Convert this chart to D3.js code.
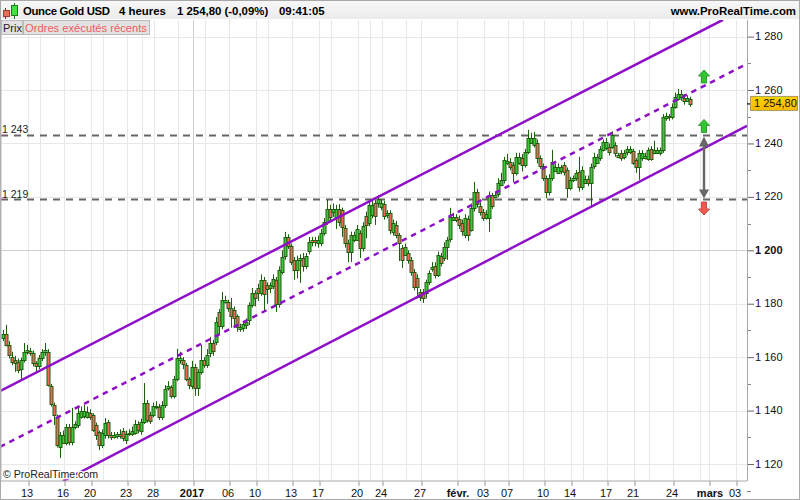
<!DOCTYPE html>
<html><head><meta charset="utf-8">
<script src="https://cdn.jsdelivr.net/npm/d3@7/dist/d3.min.js"></script>
<style>html,body{margin:0;padding:0;background:#fff}svg{display:block;font-family:"Liberation Sans",Arial,sans-serif}</style>
</head><body><div id="chart"></div>
<script>
const opens=[1167.2,1168.7,1164.6,1160.1,1158.9,1158.2,1155.6,1158.9,1161.9,1162.3,
1161.6,1157.8,1156.7,1159.7,1161.9,1161.9,1149.2,1142.1,1137.6,1126.4,
1127.9,1127.9,1133.9,1128.2,1133.9,1134.6,1137.6,1138,1137.6,1139.1,
1138.4,1134.6,1132,1127.1,1130.9,1135.7,1130.9,1130.1,1130.5,1131.2,
1132.4,1129,1131.2,1131.2,1131.6,1135,1132.4,1135.7,1142.8,1138.4,
1138.4,1141.3,1141.3,1137.6,1142.1,1148.5,1148.8,1145.5,1151.8,1158.9,
1158.9,1157.1,1151.8,1149.2,1156.3,1148.5,1154.5,1158.9,1157.1,1161.6,
1165.3,1165.7,1176.9,1171.7,1180.7,1180.7,1178.4,1177.7,1175.4,1170.6,
1170.9,1172.1,1173.9,1179.5,1184,1185.9,1184,1188.9,1187,1185.9,
1186.7,1188.9,1179.9,1191.9,1197.9,1205,1201.6,1196.4,1192.7,1196.4,
1197.1,1194.2,1199.8,1203.9,1203.9,1202.8,1202.8,1206.5,1210.6,1215.5,
1214.4,1212.1,1215.5,1215.1,1208.4,1202.8,1199.4,1203.9,1203.9,1206.5,
1200.9,1212.9,1210.3,1213.3,1217.7,1217.7,1216.2,1217.4,1213.3,1214,
1206.9,1209.5,1205.8,1200.9,1198.3,1199,1196.4,1191.9,1189.7,1184.4,
1184.4,1184,1188.2,1193,1194.2,1190.8,1197.9,1197.1,1201.3,1204.3,
1211.4,1212.5,1211.8,1210.3,1205.8,1211.8,1207.6,1215.9,1221.9,1216.6,
1214.4,1212.1,1212.1,1220.7,1220,1221.1,1224.5,1226.4,1232.7,1233.1,
1232,1229,1232.7,1234.6,1232,1236.8,1240.2,1239.5,1240.2,1234.6,
1231.6,1227.1,1221.9,1227.1,1229.7,1229,1229.7,1232,1230.1,1223.4,
1226.4,1227.1,1229.4,1223.7,1225.2,1226.7,1225.2,1231.6,1232.7,1234.6,
1237.6,1238.3,1238.7,1238.7,1239.5,1235,1236.5,1235,1236.8,1236.8,
1237.2,1233.8,1231.2,1234.6,1234.6,1234.2,1238,1236.5,1236.5,1236.5,
1237.6,1249.6,1250,1250,1253.7,1256.7,1257.4,1257.1,1255.9,1256.7];
const closes=[1168.7,1164.6,1160.8,1158.2,1157.8,1155.2,1158.9,1161.9,1162.7,1161.6,
1157.8,1156.7,1159.7,1161.9,1162.7,1149.6,1142.5,1138.4,1127.1,1130.9,
1130.9,1133.9,1128.2,1133.9,1135,1139.1,1139.8,1139.8,1139.5,1137.6,
1132.7,1130.9,1127.1,1131.6,1135.4,1130.9,1130.1,1130.9,1131.2,1130.5,
1129.7,1131.2,1131.6,1132.4,1135,1132.7,1135.7,1142.8,1136.5,1136.1,
1141.7,1141.7,1137.6,1142.1,1148.1,1149.2,1145.5,1151.8,1159.7,1159.7,
1157.5,1151.8,1149.6,1156.3,1148.5,1154.5,1158.9,1157.1,1160.8,1165.3,
1162.3,1173.2,1171.7,1181.4,1181.4,1178.4,1175.4,1174.7,1171.3,1171.3,
1172.4,1173.2,1179.5,1184,1182.2,1184,1188.9,1183.7,1185.5,1187,
1189.3,1179.9,1192.7,1197.5,1205,1201.6,1195.6,1192.7,1196.4,1197.1,
1194.2,1197.9,1203.1,1203.1,1203.1,1203.9,1206.5,1210.6,1215.5,1212.5,
1215.5,1215.5,1210.6,1208.8,1202.8,1199.4,1205.8,1205.8,1208,1200.9,
1209.1,1209.5,1217,1217,1212.9,1219.2,1217.7,1212.9,1214,1207.6,
1210.3,1205.8,1202.8,1196.4,1201.3,1196.4,1191.9,1186.3,1186.3,1182.5,
1182.2,1188.2,1191.5,1193.8,1190.8,1198.3,1195.3,1201.3,1203.9,1212.5,
1212.5,1211.4,1209.5,1207.3,1212.1,1205.8,1215.9,1221.9,1217.4,1214.4,
1212.1,1213.6,1220.7,1216.6,1220.7,1225.2,1226.4,1233.8,1233.5,1231.2,
1229,1235,1235,1232,1236.8,1242.1,1242.1,1242.1,1234.6,1231.6,
1227.1,1221.9,1227.1,1233.1,1231.2,1231.2,1231.2,1229.4,1223.4,1226.4,
1227.1,1229,1223.7,1230.1,1226.7,1225.2,1231.2,1235,1235,1238,
1240.6,1240.6,1236.8,1243.2,1236.5,1235.7,1234.6,1236.5,1238,1238,
1232.7,1231.2,1236.5,1236.5,1235.3,1237.6,1234.2,1237.6,1237.6,1237.6,
1250,1250.3,1250.3,1253.7,1257.4,1258.6,1258.6,1255.9,1257.1,1254.8];
const highs=[1170.2,1172.1,1166,1162,1160.5,1159.5,1159.8,1165.3,1164.6,1163.5,
1162.5,1158.5,1160.8,1163,1165.3,1163,1150,1143,1138.5,1132,
1132.5,1135,1135,1141,1136,1141,1141.5,1142.1,1141.5,1140.5,
1139,1135.5,1132.5,1133,1137.2,1136.5,1132,1132,1132,1133,
1133.5,1132.5,1133,1134,1136.5,1136,1137,1150.3,1144,1139.5,
1143,1143.5,1142.5,1143.5,1149.5,1151,1149.5,1153,1163.1,1162,
1160,1157.8,1152.5,1158.6,1157.5,1155.5,1164.6,1160,1163,1167.6,
1166.5,1175,1178,1184.4,1183,1181.5,1182.2,1179,1176,1172.5,
1173.5,1174.5,1180.5,1185.9,1185,1187.5,1191,1190,1188,1188,
1191,1190,1194,1200,1206.9,1206,1202.5,1197.5,1198,1198.5,
1199,1199,1205,1205,1205,1205.5,1208,1212,1218.9,1217,
1217.5,1217,1217.3,1216,1209.5,1204,1207,1207,1209.5,1207.5,
1210.5,1214.5,1219,1218.5,1219,1220.7,1219,1218.5,1215,1215,
1211.5,1211,1206.5,1202,1202.5,1200,1197.5,1193,1191,1185.5,
1185.5,1189,1192.5,1195.6,1195.5,1199.5,1199,1203,1205,1215.9,
1214,1213.5,1213,1211.5,1213.5,1213,1217.5,1225.6,1223,1218,
1215.5,1215,1222,1221.5,1222,1227,1229,1235,1236.1,1234.5,
1233,1236.5,1236.5,1236,1238,1245.1,1244,1244.3,1241.5,1235.5,
1232.5,1228,1228.5,1237.6,1232.5,1232.5,1232,1233,1231,1227.5,
1228,1230,1235,1231.5,1228,1228,1232.5,1236.5,1236,1239,
1241.5,1242,1240,1244.5,1240.5,1236.5,1237.5,1237.5,1239,1239,
1238,1234.5,1237.5,1237.5,1236.5,1238.5,1239,1241,1238.5,1238.5,
1251,1251.5,1251,1255,1259,1260.4,1260,1258.5,1258,1257.5];
const lows=[1166,1164,1159.5,1157,1154.5,1154,1151.1,1158,1161,1160.5,
1156.5,1154.5,1155.5,1158.5,1160.5,1149,1141.5,1134.6,1126.2,1122.2,
1129,1127,1127,1127,1133,1133.5,1137,1137,1137,1136.5,
1132,1129,1125.2,1126,1129.5,1129.5,1129,1129.5,1129.5,1129.5,
1128.5,1127.5,1130.5,1130.5,1131,1131.5,1131,1135,1135.5,1135,
1137.5,1140.5,1136.5,1136.5,1141,1147.5,1144.5,1144.5,1151,1157.5,
1155.5,1151,1148,1148,1145.5,1145.5,1153.5,1156,1156,1160,
1160.5,1164.5,1168.5,1170.5,1180,1177,1171,1171,1169.5,1169.5,
1169.5,1170.5,1172,1178.5,1179,1181,1183,1177,1180,1184,
1185.5,1176.9,1178.5,1191,1196.5,1200.5,1194.5,1189,1189.5,1187.8,
1192,1193,1198.5,1201.5,1201.5,1201,1201.5,1205.5,1209.5,1210.5,
1212.5,1208,1209,1205,1201,1195.5,1195.6,1203,1203.5,1197.1,
1199.5,1204.5,1209,1212,1209.5,1216,1215,1211.5,1212,1206,
1205.5,1204.5,1196,1193.4,1198,1195,1190.5,1185,1182,1181,
1180.3,1182,1187,1192,1189.5,1190,1194,1196,1196.4,1203,
1211.5,1210.5,1208,1205.5,1204.5,1203.5,1207,1214.5,1216,1213,
1211,1211.5,1206.9,1215.5,1219.5,1220,1224,1225,1232,1230,
1225.5,1228,1232,1229.5,1231,1236,1240.5,1238.5,1232.5,1230.5,
1226,1219.5,1220.5,1226,1230,1229,1228.5,1228,1219.6,1222.5,
1225.5,1226,1222,1222.5,1225.5,1224,1216.6,1230.5,1233.5,1233.5,
1237,1237.5,1235.5,1238,1235,1234.5,1233.5,1234,1235.5,1236,
1232,1229,1226.4,1233.5,1234,1233.5,1233.5,1236,1236,1235.5,
1236.5,1248.5,1248.5,1249,1253,1256,1256,1254.5,1256.5,1253.7];

const timeTicks=[8,20,29,41,50,63,75,84,96,105,118,126,139,151,160,168,180,189,201,210,223,235,244];
const timeLabels=["13","16","20","23","28","2017","06","10","13","17","20","24","27","févr.","03","07","10","14","17","21","24","mars","03"];
const boldLabels=["2017","févr.","mars"];
const minorGrid=[12,33,46,58,67,88,109,122,134,173,193,215,232];
const priceTicks=[1120,1140,1160,1180,1200,1220,1240,1260,1280];
const priceMinor=[1110,1130,1150,1170,1190,1210,1230,1250,1270,1290];
const levelValues=[1243,1219];
const levelLabels=["1 243","1 219"];
const upperBars=[-1,240], upperPrices=[1147.3,1286.3];
const middleBars=[-1,248], middlePrices=[1126.4,1269.8];
const lowerBars=[20,248], lowerPrices=[1113.6,1246.6];
const arrowUpPrices=[1267.5,1249];
const arrowDownPrice=1213.2;
const lastPrice=1254.8;

const W=800,H=500,plotL=1,plotR=747,plotT=20,plotB=481;
const x=d3.scaleLinear().domain([0,229]).range([3,690]);
const y=d3.scaleLinear().domain([1120,1280]).range([464,36.6]);
const frFmt=d3.formatLocale({decimal:",",thousands:" ",grouping:[3],currency:["",""]});
const fmtInt=frFmt.format(",d"), fmtDec=frFmt.format(",.2f");

const svg=d3.select("#chart").append("svg").attr("width",W).attr("height",H);
const defs=svg.append("defs");
defs.append("clipPath").attr("id","plot").append("rect").attr("x",plotL).attr("y",plotT).attr("width",plotR-plotL).attr("height",plotB-plotT);
const hg=defs.append("linearGradient").attr("id","hdr").attr("x1",0).attr("x2",0).attr("y1",0).attr("y2",1);
hg.append("stop").attr("offset",0).attr("stop-color","#f7f7f7");
hg.append("stop").attr("offset",1).attr("stop-color","#ececec");
const gg=defs.append("linearGradient").attr("id","gold").attr("x1",0).attr("x2",0).attr("y1",0).attr("y2",1);
gg.append("stop").attr("offset",0).attr("stop-color","#ffd200");
gg.append("stop").attr("offset",1).attr("stop-color","#f7bb00");

svg.append("rect").attr("width",W).attr("height",H).attr("fill","#fff");

// grid
const grid=svg.append("g").attr("clip-path","url(#plot)");
minorGrid.concat(timeTicks).forEach(d=>{
  grid.append("line").attr("x1",x(d)+1.5).attr("x2",x(d)+1.5).attr("y1",plotT).attr("y2",plotB)
    .attr("stroke",d===63?"#cfcfcf":"#e8e8e8").attr("stroke-width",1);
});
priceTicks.forEach(d=>{
  const py=Math.round(y(d))+.5;
  grid.append("line").attr("x1",plotL).attr("x2",plotR).attr("y1",py).attr("y2",py)
    .attr("stroke",d===1200?"#cfcfcf":"#e8e8e8");
});

// levels
const plot=svg.append("g").attr("clip-path","url(#plot)");
levelValues.forEach(d=>{
  plot.append("line").attr("x1",plotL).attr("x2",plotR).attr("y1",y(d)).attr("y2",y(d))
    .attr("stroke","#666").attr("stroke-width",2).attr("stroke-dasharray","7,6");
});

// candles
const idx=d3.range(closes.length);
const candleColor="#1e5f0c";
plot.append("g").selectAll("line").data(idx).join("line")
  .attr("x1",i=>x(i)+.5).attr("x2",i=>x(i)+.5)
  .attr("y1",i=>y(highs[i])).attr("y2",i=>y(lows[i]))
  .attr("stroke",candleColor).attr("stroke-width",1);
plot.append("g").selectAll("rect").data(idx).join("rect")
  .attr("x",i=>x(i)-1)
  .attr("y",i=>Math.round(Math.min(y(opens[i]),y(closes[i])))+.5)
  .attr("width",3)
  .attr("height",i=>Math.max(1,Math.round(Math.abs(y(opens[i])-y(closes[i])))))
  .attr("fill",i=>closes[i]>=opens[i]?"#3fc63f":"#ee6a5e")
  .attr("stroke",candleColor).attr("stroke-width",1);

// channels
const lineGen=d3.line().x(d=>x(d[0])).y(d=>y(d[1]));
const chan=[[upperBars,upperPrices,null],[middleBars,middlePrices,"5.5,5"],[lowerBars,lowerPrices,null]];
chan.forEach(([b,p,dash])=>{
  plot.append("path").attr("d",lineGen(b.map((v,k)=>[v,p[k]])))
    .attr("fill","none").attr("stroke","#8f0fc9").attr("stroke-width",2.5)
    .attr("stroke-dasharray",dash);
});

// arrows
const ax=704;
function arrow(py,dir,fill,stroke){
  const a=plot.append("path").attr("fill",fill).attr("stroke",stroke).attr("stroke-width",1);
  const h=dir*13,w=5.5;
  a.attr("d",`M${ax},${py} L${ax+w},${py+dir*6} L${ax+2.5},${py+dir*6} L${ax+2.5},${py+h} L${ax-2.5},${py+h} L${ax-2.5},${py+dir*6} L${ax-w},${py+dir*6} Z`);
}
arrowUpPrices.forEach(p=>arrow(y(p),1,"#35c435","#2aa02a"));
arrow(y(arrowDownPrice),-1,"#ef5a50","#c94a42");
const gy1=y(levelValues[0])+1,gy2=y(levelValues[1])-1;
plot.append("line").attr("x1",ax).attr("x2",ax).attr("y1",gy1+5).attr("y2",gy2-5).attr("stroke","#666").attr("stroke-width",2.4);
plot.append("path").attr("fill","#666").attr("d",`M${ax},${gy1} L${ax+5},${gy1+10} L${ax-5},${gy1+10} Z M${ax},${gy2} L${ax+5},${gy2-9} L${ax-5},${gy2-9} Z`);

// frame & axes
const axisR=d3.axisRight(y).tickValues(priceTicks).tickSize(7).tickPadding(1).tickFormat(fmtInt);
const gR=svg.append("g").attr("transform",`translate(${plotR},0)`).call(axisR);
gR.select(".domain").remove();
gR.selectAll("text").attr("font-size",11).attr("fill","#111").attr("font-family","'Liberation Sans',Arial,sans-serif")
  .attr("font-weight",d=>d===1200?"bold":"normal").attr("x",8).attr("dy","0.28em");
gR.selectAll("line").attr("stroke","#666");
svg.append("g").selectAll("line").data(priceMinor).join("line")
  .attr("x1",plotR).attr("x2",plotR+4).attr("y1",d=>Math.round(y(d))+.5).attr("y2",d=>Math.round(y(d))+.5).attr("stroke","#888");

const axisB=d3.axisBottom(x).tickValues(timeTicks).tickSize(5).tickPadding(3).tickFormat((d,i)=>timeLabels[i]);
const gB=svg.append("g").attr("transform",`translate(1.5,${plotB})`).call(axisB);
gB.select(".domain").remove();
gB.selectAll("text").attr("font-size",11).attr("fill","#111").attr("font-family","'Liberation Sans',Arial,sans-serif")
  .attr("font-weight",(d,i)=>boldLabels.includes(timeLabels[i])?"bold":"normal")
  .attr("x",(d,i)=>(timeLabels[i]==="mars"||timeLabels[i]==="févr.")?0:-2);
gB.selectAll("line").attr("stroke","#999");

svg.append("line").attr("x1",plotR+.5).attr("x2",plotR+.5).attr("y1",plotT).attr("y2",plotB).attr("stroke","#a8a8a8");
svg.append("line").attr("x1",plotL).attr("x2",plotR).attr("y1",plotB).attr("y2",plotB).attr("stroke","#a8a8a8");
svg.append("rect").attr("x",.5).attr("y",.5).attr("width",W-1).attr("height",H-1).attr("fill","none").attr("stroke","#a8a8a8");
svg.append("line").attr("x1",1).attr("x2",1).attr("y1",plotT).attr("y2",plotB).attr("stroke","#b8b8b8");

// level labels
levelLabels.forEach((t,k)=>{
  svg.append("text").attr("x",2).attr("y",y(levelValues[k])-2).attr("font-size",10.5).attr("fill","#222").text(t);
});

// price tag
svg.append("line").attr("x1",plotR).attr("x2",plotR+5).attr("y1",y(lastPrice)).attr("y2",y(lastPrice)).attr("stroke","#000").attr("stroke-width",1.2);
svg.append("rect").attr("x",750.5).attr("y",y(lastPrice)-7.5).attr("width",47).attr("height",14).attr("fill","url(#gold)").attr("stroke","#a89a60");
svg.append("text").attr("x",754).attr("y",y(lastPrice)+3.5).attr("font-size",11).attr("fill","#111").text(fmtDec(lastPrice));

// header
svg.append("rect").attr("x",1).attr("y",1).attr("width",W-2).attr("height",18).attr("fill","url(#hdr)");
const head=svg.append("g").attr("font-weight","bold").attr("font-size",11.4).attr("fill","#000");
head.append("text").attr("x",23).attr("y",15).attr("textLength",87).text("Ounce Gold USD");
head.append("text").attr("x",119).attr("y",15).text("4 heures");
head.append("text").attr("x",177).attr("y",15).text("1 254,80 (-0,09%)");
head.append("text").attr("x",279).attr("y",15).text("09:41:05");
head.append("text").attr("x",796).attr("y",15).attr("text-anchor","end").text("www.ProRealTime.com");
svg.append("line").attr("x1",5.5).attr("x2",5.5).attr("y1",8).attr("y2",19).attr("stroke","#7a1f1f");
svg.append("rect").attr("x",3.5).attr("y",10.5).attr("width",6).attr("height",6).attr("fill","#ee6a5e").attr("stroke","#a33");
svg.append("line").attr("x1",14.5).attr("x2",14.5).attr("y1",3).attr("y2",19).attr("stroke","#1e7a1e");
svg.append("rect").attr("x",11.5).attr("y",5.5).attr("width",6).attr("height",10).attr("fill","#3fe03f").attr("stroke","#1e7a1e");

// legend
svg.append("rect").attr("x",1.5).attr("y",20.5).attr("width",21).attr("height",14).attr("fill","#e2e2e2").attr("stroke","#bbb");
svg.append("text").attr("x",3).attr("y",32).attr("font-size",11).attr("fill","#222").text("Prix");
svg.append("rect").attr("x",23.5).attr("y",20.5).attr("width",126).attr("height",14).attr("fill","#e2e2e2").attr("stroke","#bbb");
svg.append("text").attr("x",25).attr("y",32).attr("font-size",11.2).attr("fill","#f05a5a").text("Ordres exécutés récents");

// watermark
svg.append("text").attr("x",3).attr("y",478).attr("font-size",10.6).attr("fill","#222")
  .attr("stroke","#fff").attr("stroke-width",2.5).attr("paint-order","stroke").text("© ProRealTime.com");
</script></body></html>
